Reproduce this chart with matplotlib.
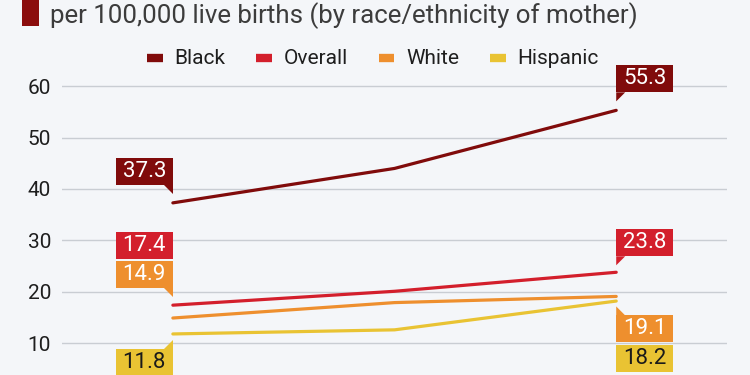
import matplotlib.pyplot as plt
from matplotlib.patches import Polygon
from matplotlib.transforms import ScaledTranslation

years = ['2018', '2019', '2020']
series = ['Black', 'Overall', 'White', 'Hispanic']
black = [37.3, 44.0, 55.3]
overall = [17.4, 20.1, 23.8]
white = [14.9, 17.9, 19.1]
hispanic = [11.8, 12.6, 18.2]
yticks = [10, 20, 30, 40, 50, 60]

colors = ['#800b0b', '#d31f2c', '#ee8f2e', '#e9c333']
text_colors = ['white', 'white', 'white', '#1a1a1a']
bg = '#f4f6f9'

plt.rcParams['font.family'] = ['Roboto', 'DejaVu Sans']

fig = plt.figure(figsize=(7.5, 3.75), dpi=100, facecolor=bg)
# plot area runs past the bottom edge (chart is cropped)
ax = fig.add_axes([0.0827, -0.0523, 0.8867, 0.8499], facecolor=bg)
ax.set_xlim(-0.5, 2.5)
ax.set_ylim(0, 62)

x = list(range(len(years)))
values = [black, overall, white, hispanic]
for vals, c, name in zip(values, colors, series):
    ax.plot(x, vals, color=c, linewidth=2.3, solid_capstyle='round',
            label=name, zorder=3)

ax.set_yticks(yticks)
ax.set_yticklabels([str(t) for t in yticks], fontsize=15, color='#1e1e1e')
ax.set_xticks([])
ax.grid(axis='y', color='#c9cdd3', linewidth=1)
ax.tick_params(axis='y', length=0, pad=8)
for spine in ax.spines.values():
    spine.set_visible(False)

# callout labels: (series index, point index, box bottom offset px, tail)
# offsets are pixels from the data point, y up
callouts = [
    (0, 0, 18, 'down'),
    (1, 0, 46, None),
    (2, 0, 30, 'down'),
    (3, 0, -42, 'up'),
    (0, 2, 18, 'down'),
    (1, 2, 16, 'down'),
    (2, 2, -46, 'up'),
    (3, 2, -71, None),
]
box_w, box_h, tail = 57, 27, 9
d = fig.dpi
for si, pi, y0, tail_dir in callouts:
    v = values[si][pi]
    trans = fig.dpi_scale_trans + ScaledTranslation(pi, v, ax.transData)
    if pi == 0:
        x0, x1, xt0, xt1 = -box_w, 0, -tail, 0
    else:
        x0, x1, xt0, xt1 = 0, box_w, 0, tail
    rect = [(x0, y0), (x1, y0), (x1, y0 + box_h), (x0, y0 + box_h)]
    ax.add_patch(Polygon([(a / d, b / d) for a, b in rect], closed=True,
                         facecolor=colors[si], edgecolor='none',
                         transform=trans, clip_on=False, zorder=4))
    if tail_dir == 'down':
        tri = [(xt0, y0), (xt1, y0), (0, y0 - tail)]
    elif tail_dir == 'up':
        tri = [(xt0, y0 + box_h), (xt1, y0 + box_h), (0, y0 + box_h + tail)]
    else:
        tri = None
    if tri:
        ax.add_patch(Polygon([(a / d, b / d) for a, b in tri], closed=True,
                             facecolor=colors[si], edgecolor='none',
                             transform=trans, clip_on=False, zorder=4))
    ax.text((x0 + x1) / 2 / d, (y0 + box_h / 2) / d, f'{v:.1f}',
            transform=trans, ha='center', va='center', fontsize=16,
            color=text_colors[si], zorder=5, clip_on=False)

leg = fig.legend(loc='center', bbox_to_anchor=(0.497, 0.843), ncol=4,
                 frameon=False, fontsize=15, handlelength=0.75,
                 handleheight=0.4, handletextpad=0.55, columnspacing=1.5,
                 labelcolor='#1e1e1e')
for h in leg.legend_handles:
    h.set_linewidth(6)
    h.set_solid_capstyle('butt')

# header: accent bar and subtitle (title line is cropped off)
fig.patches.append(plt.Rectangle((22 / 750, 1 - 26 / 375), 17 / 750, 26 / 375,
                                 transform=fig.transFigure,
                                 facecolor='#8b0d0d', edgecolor='none'))
fig.text(50 / 750, 1 - 16 / 375,
         'per 100,000 live births (by race/ethnicity of mother)',
         fontsize=18.6, color='#3c3c3c', va='center', ha='left')

fig.savefig('out.png', dpi=100, facecolor=bg)
